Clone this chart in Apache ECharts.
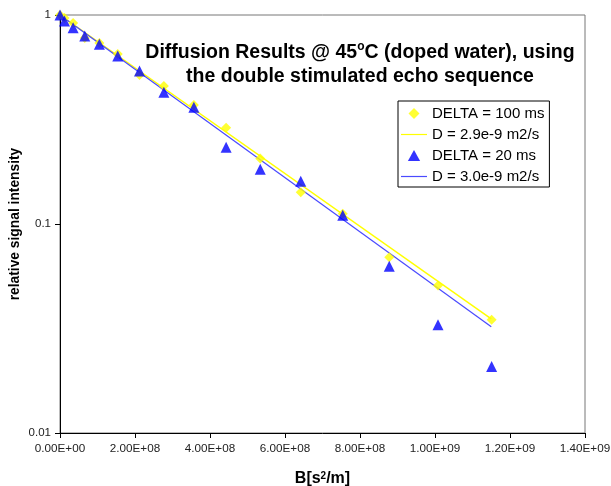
<!DOCTYPE html>
<html>
<head>
<meta charset="utf-8">
<script src="https://cdn.jsdelivr.net/npm/echarts@6/dist/echarts.min.js"></script>
<style>
  html, body { margin: 0; padding: 0; background: #fff; }
  #main { width: 611px; height: 486px; }
</style>
</head>
<body>
<div id="main"></div>
<script>
// b values [s/m^2], same for both runs
var bValues = [0, 1.2e7, 3.5e7, 6.6e7, 1.05e8, 1.54e8, 2.12e8, 2.77e8, 3.57e8, 4.43e8, 5.34e8, 6.42e8, 7.54e8, 8.78e8, 1.008e9, 1.151e9];
// DELTA = 100 ms
var signal100 = [1.0, 0.967, 0.916, 0.776, 0.735, 0.651, 0.516, 0.457, 0.371, 0.289, 0.206, 0.142, 0.112, 0.0694, 0.0508, 0.0348];
// DELTA = 20 ms
var signal20 = [1.0, 0.936, 0.869, 0.793, 0.724, 0.637, 0.540, 0.427, 0.362, 0.233, 0.183, 0.160, 0.110, 0.0628, 0.033, 0.0208];
// fitted lines, end points
var fitX = [0, 1.15e9];
var fit100 = [1.0, 0.0352];
var fit20 = [1.0, 0.0322];

var legendNames = ['DELTA = 100 ms', 'D = 2.9e-9 m2/s', 'DELTA = 20 ms', 'D = 3.0e-9 m2/s'];

function pairs(xs, ys) {
  return xs.map(function (x, i) { return [x, ys[i]]; });
}

// 2.00E+08 style
function sci(v) {
  var parts = v.toExponential(2).split('e');
  var exp = parseInt(parts[1], 10);
  var sign = exp < 0 ? '-' : '+';
  var e = Math.abs(exp);
  return parts[0] + 'E' + sign + (e < 10 ? '0' + e : e);
}

var font = 'Liberation Sans, Arial, sans-serif';
// legend icons as paths so they keep their aspect
var iconDiamond = 'path://M5,0 L10,5 L5,10 L0,5 Z';
var iconTriangle = 'path://M5,0 L10,9 L0,9 Z';
var iconLine = 'path://M0,0 L26,0 L26,1.2 L0,1.2 Z';

var chart = echarts.init(document.getElementById('main'));

var option = {
  backgroundColor: '#fff',
  animation: false,
  textStyle: { fontFamily: font },
  grid: {
    left: 60, top: 15, right: 26, bottom: 53,
    containLabel: false,
    outerBoundsMode: 'none',
    show: true,
    borderColor: '#777',
    borderWidth: 1
  },
  graphic: [{
    type: 'text',
    x: 360,
    y: 41,
    z: 10,
    style: {
      text: '{a|Diffusion Results @ 45}{s|o}{a|C (doped water), using}\n{a|the double stimulated echo sequence}',
      align: 'center',
      rich: {
        a: { fontSize: 19.5, fontWeight: 'bold', fontFamily: font, lineHeight: 24, color: '#000', align: 'center' },
        s: { fontSize: 12, fontWeight: 'bold', fontFamily: font, lineHeight: 12, color: '#000', verticalAlign: 'top', align: 'center' }
      }
    }
  }],
  legend: {
    orient: 'vertical',
    left: 398,
    top: 101,
    padding: [5, 5, 3, 3],
    itemGap: 6,
    itemWidth: 26,
    itemHeight: 11,
    backgroundColor: '#fff',
    borderColor: '#000',
    borderWidth: 1,
    borderRadius: 0,
    textStyle: { fontSize: 15, color: '#000', fontFamily: font },
    data: [
      { name: legendNames[0], icon: iconDiamond },
      { name: legendNames[1], icon: iconLine },
      { name: legendNames[2], icon: iconTriangle },
      { name: legendNames[3], icon: iconLine }
    ]
  },
  xAxis: {
    type: 'value',
    min: 0,
    max: 1.4e9,
    interval: 2e8,
    name: 'B[s{s|2}/m]',
    nameLocation: 'middle',
    nameGap: 38,
    nameMoveOverlap: false,
    nameTextStyle: {
      fontSize: 16, fontWeight: 'bold', color: '#000', fontFamily: font,
      rich: {
        s: { fontSize: 10, fontWeight: 'bold', color: '#000', fontFamily: font, verticalAlign: 'top', lineHeight: 10 }
      }
    },
    axisLine: { onZero: false, lineStyle: { color: '#000', width: 1 } },
    axisTick: { show: true, inside: false, length: 5, lineStyle: { color: '#000' } },
    axisLabel: {
      fontSize: 11.7, color: '#222', margin: 10,
      formatter: function (v) { return sci(v); }
    },
    splitLine: { show: false }
  },
  yAxis: {
    type: 'log',
    logBase: 10,
    min: 0.01,
    max: 1,
    name: 'relative signal intensity',
    nameLocation: 'middle',
    nameRotate: 90,
    nameGap: 38,
    nameMoveOverlap: false,
    nameTextStyle: { fontSize: 13.8, fontWeight: 'bold', color: '#000', fontFamily: font },
    axisLine: { show: true, lineStyle: { color: '#000', width: 1 } },
    axisTick: { show: true, inside: false, length: 5, lineStyle: { color: '#000' } },
    axisLabel: {
      fontSize: 11.5, color: '#222', margin: 9,
      formatter: function (v) { return String(+v.toPrecision(3)); }
    },
    splitLine: { show: false },
    minorTick: { show: false }
  },
  series: [
    {
      name: legendNames[0],
      type: 'scatter',
      symbol: 'diamond',
      symbolSize: 10,
      z: 4,
      itemStyle: { color: '#ffff00' },
      data: pairs(bValues, signal100)
    },
    {
      name: legendNames[1],
      type: 'line',
      symbol: 'none',
      z: 2,
      lineStyle: { color: '#ffff00', width: 1.5 },
      itemStyle: { color: '#ffff00' },
      data: pairs(fitX, fit100)
    },
    {
      name: legendNames[2],
      type: 'scatter',
      symbol: 'triangle',
      symbolSize: 11,
      z: 5,
      itemStyle: { color: '#0000ff' },
      data: pairs(bValues, signal20)
    },
    {
      name: legendNames[3],
      type: 'line',
      symbol: 'none',
      z: 2,
      lineStyle: { color: '#4a4aff', width: 1.2 },
      itemStyle: { color: '#4a4aff' },
      data: pairs(fitX, fit20)
    }
  ]
};

chart.setOption(option);
</script>
</body>
</html>
